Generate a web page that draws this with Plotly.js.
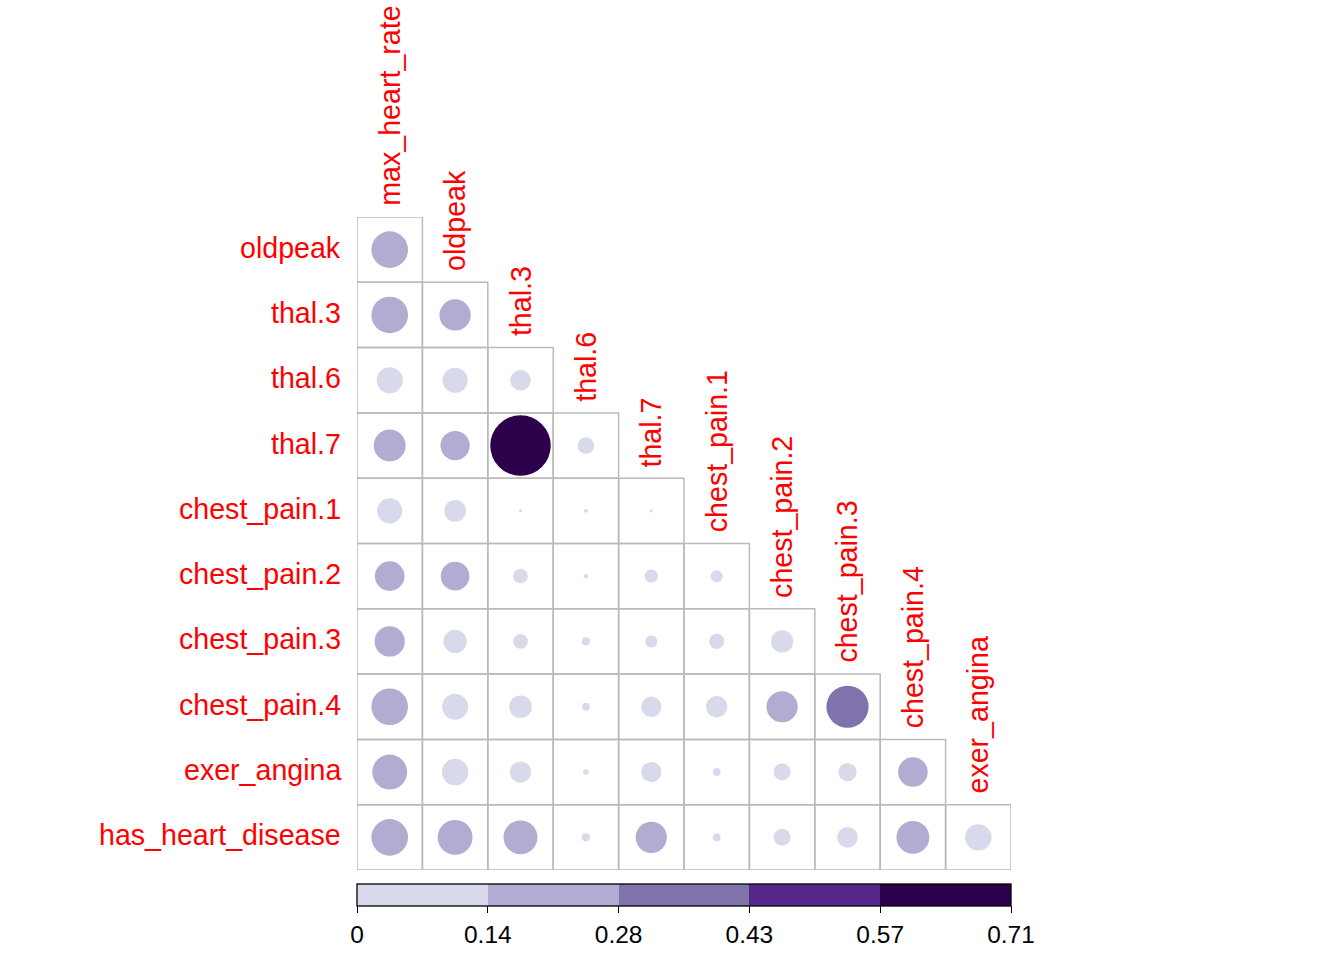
<!DOCTYPE html>
<html>
<head>
<meta charset="utf-8">
<script src="https://cdn.plot.ly/plotly-3.0.1.min.js"></script>
<style>html,body{margin:0;padding:0;background:#fff;}#chart{width:1344px;height:960px;}</style>
</head>
<body>
<div id="chart"></div>
<script>
// Row (y) variables, top to bottom
const rowLabels = ["oldpeak","thal.3","thal.6","thal.7","chest_pain.1","chest_pain.2","chest_pain.3","chest_pain.4","exer_angina","has_heart_disease"];
// Column (x) variables, left to right
const colLabels = ["max_heart_rate","oldpeak","thal.3","thal.6","thal.7","chest_pain.1","chest_pain.2","chest_pain.3","chest_pain.4","exer_angina"];

// Absolute correlations, lower triangle (row i has columns 0..i)
const r_oldpeak          = [0.26];
const r_thal3            = [0.26, 0.19];
const r_thal6            = [0.133, 0.123, 0.083];
const r_thal7            = [0.197, 0.166, 0.71, 0.054];
const r_chest_pain1      = [0.123, 0.093, 0.002, 0.003, 0.002];
const r_chest_pain2      = [0.17, 0.159, 0.042, 0.004, 0.034, 0.028];
const r_chest_pain3      = [0.177, 0.105, 0.042, 0.013, 0.028, 0.045, 0.096];
const r_chest_pain4      = [0.26, 0.13, 0.099, 0.012, 0.08, 0.088, 0.189, 0.345];
const r_exer_angina      = [0.236, 0.137, 0.088, 0.006, 0.08, 0.012, 0.056, 0.065, 0.17];
const r_has_heart_disease= [0.26, 0.236, 0.223, 0.013, 0.189, 0.012, 0.056, 0.083, 0.21, 0.135];
const matrixRows = [r_oldpeak, r_thal3, r_thal6, r_thal7, r_chest_pain1, r_chest_pain2, r_chest_pain3, r_chest_pain4, r_exer_angina, r_has_heart_disease];

// Colour legend
const legendMin = 0, legendMax = 0.71;
const tickValues = [0, 0.142, 0.284, 0.426, 0.568, 0.71];
const tickLabels = ["0", "0.14", "0.28", "0.43", "0.57", "0.71"];
const binColors = ["#d8daeb", "#b2abd2", "#8073ac", "#542788", "#2d004b"];

// Build discrete colorscale
const colorscale = [];
binColors.forEach((c, k) => {
  colorscale.push([k / binColors.length, c]);
  colorscale.push([(k + 1) / binColors.length, c]);
});

const xs = [], ys = [], vs = [];
const shapes = [];
matrixRows.forEach((row, i) => {
  row.forEach((v, j) => {
    xs.push(j); ys.push(i); vs.push(v);
    shapes.push({type: "rect", xref: "x", yref: "y", x0: j - 0.5, x1: j + 0.5, y0: i - 0.5, y1: i + 0.5,
      line: {color: "#bababa", width: 1.5}, fillcolor: "rgba(0,0,0,0)", layer: "below"});
  });
});

const maxDiameter = 60.5;
const FONT = "Liberation Sans, Arial, Helvetica, sans-serif";

const trace = {
  type: "scatter", mode: "markers", x: xs, y: ys,
  marker: {
    size: vs, sizemode: "area", sizeref: 2 * legendMax / (maxDiameter * maxDiameter), sizemin: 0,
    color: vs, cmin: legendMin, cmax: legendMax, colorscale: colorscale,
    opacity: 1,
    line: {width: 0},
    showscale: true,
    colorbar: {
      orientation: "h", x: 0.5, xanchor: "center", y: -0.0199, yanchor: "top",
      len: 654, lenmode: "pixels", thickness: 22, thicknessmode: "pixels",
      xpad: 0, ypad: 0, outlinecolor: "#000", outlinewidth: 1.3,
      tickmode: "array", tickvals: tickValues, ticktext: tickLabels,
      ticks: "outside", ticklen: 7, tickcolor: "#000", tickwidth: 1,
      tickfont: {family: FONT, size: 24.5, color: "#000"}
    }
  },
  hoverinfo: "skip", cliponaxis: false
};

const annotations = [];
rowLabels.forEach((t, i) => {
  annotations.push({xref: "paper", x: 0, xanchor: "right", xshift: -14, yref: "y", y: i, yanchor: "middle", yshift: 2,
    text: t, showarrow: false, font: {family: FONT, size: 28.6, color: "#ff0000"}});
});
colLabels.forEach((t, j) => {
  annotations.push({xref: "x", x: j, xanchor: "center", yref: "y", y: j - 0.5, yanchor: "bottom", yshift: 9,
    text: t, textangle: -90, showarrow: false, font: {family: FONT, size: 28.6, color: "#ff0000"}});
});

const layout = {
  width: 1344, height: 960,
  margin: {l: 357, r: 333, t: 217, b: 89, pad: 0},
  paper_bgcolor: "#fff", plot_bgcolor: "#fff",
  showlegend: false,
  xaxis: {range: [-0.5, 9.5], showgrid: false, zeroline: false, showticklabels: false, ticks: "", showline: false, fixedrange: true},
  yaxis: {range: [9.5, -0.5], showgrid: false, zeroline: false, showticklabels: false, ticks: "", showline: false, fixedrange: true},
  shapes: shapes,
  annotations: annotations,
  hovermode: false
};

Plotly.newPlot("chart", [trace], layout, {displayModeBar: false, staticPlot: true});
</script>
</body>
</html>
